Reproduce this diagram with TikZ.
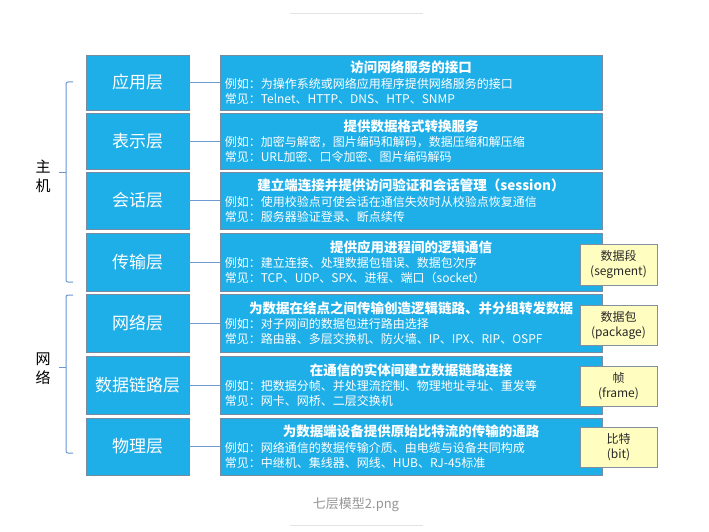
\documentclass[tikz,border=0pt]{standalone}
\usepackage{fontspec}
\setmainfont{Noto Sans CJK SC}
\definecolor{boxblue}{RGB}{31,175,232}
\definecolor{boxline}{RGB}{120,140,160}
\definecolor{pdufill}{RGB}{255,253,192}
\definecolor{pduline}{RGB}{130,145,160}
\definecolor{pdutext}{RGB}{40,40,40}
\definecolor{connblue}{RGB}{110,155,210}
\definecolor{brkblue}{RGB}{105,150,208}
\definecolor{captiongrey}{RGB}{150,150,150}
\definecolor{rulegrey}{RGB}{228,228,228}
\newcommand\osirow[7]{%
  \node[layerbox, minimum height={(#3-#2)*1pt}] (L#1) at (137.5,{(#2+#3)/2}) {#4};
  \node[descbox, minimum height={(#3-#2)*1pt}] (R#1) at (411,{(#2+#3)/2}) {};
  \node[titletxt] (T#1) at ([yshift=15pt]R#1.center) {#5};
  \node[txtline, anchor=west] (A#1) at ([xshift=5pt,yshift=-1pt]R#1.west) {例如：#6};
  \node[txtline, anchor=west] (B#1) at ([xshift=5pt,yshift=-16pt]R#1.west) {常见：#7};
  \draw[conn] (L#1.east) -- (R#1.west);
}
\begin{document}
\begin{tikzpicture}[x=1pt,y=-1pt,
  layerbox/.style={draw=boxline, line width=0.8pt, fill=boxblue, minimum width=103pt, text=white, font=\fontsize{17}{20}\selectfont, inner sep=0pt},
  descbox/.style={draw=boxline, line width=0.8pt, fill=boxblue, minimum width=382pt, inner sep=0pt},
  titletxt/.style={text=white, font=\bfseries\fontsize{13.5}{16}\selectfont, inner sep=0pt},
  txtline/.style={text=white, font=\fontsize{12}{14}\selectfont, inner sep=0pt},
  pdubox/.style={draw=pduline, line width=0.8pt, fill=pdufill, minimum width=77pt, align=center, font=\fontsize{12}{15}\selectfont, text=pdutext, inner sep=0pt},
  conn/.style={draw=connblue, line width=1pt},
  brk/.style={draw=brkblue, line width=1pt, rounded corners=2pt},
  sidelabel/.style={align=center, font=\fontsize{15}{19}\selectfont, text=black, inner sep=0pt},
]
\useasboundingbox (0,0) rectangle (709,532);

\osirow{1}{55}{110}{应用层}{访问网络服务的接口}{为操作系统或网络应用程序提供网络服务的接口}{Telnet、HTTP、DNS、HTP、SNMP}
\osirow{2}{113}{169}{表示层}{提供数据格式转换服务}{加密与解密，图片编码和解码，数据压缩和解压缩}{URL加密、口令加密、图片编码解码}
\osirow{3}{172}{229}{会话层}{建立端连接并提供访问验证和会话管理（session）}{使用校验点可使会话在通信失效时从校验点恢复通信}{服务器验证登录、断点续传}
\osirow{4}{233}{291}{传输层}{提供应用进程间的逻辑通信}{建立连接、处理数据包错误、数据包次序}{TCP、UDP、SPX、进程、端口（socket）}
\osirow{5}{294}{352}{网络层}{为数据在结点之间传输创造逻辑链路、并分组转发数据}{对子网间的数据包进行路由选择}{路由器、多层交换机、防火墙、IP、IPX、RIP、OSPF}
\osirow{6}{356}{414}{数据链路层}{在通信的实体间建立数据链路连接}{把数据分帧、并处理流控制、物理地址寻址、重发等}{网卡、网桥、二层交换机}
\osirow{7}{418}{475}{物理层}{为数据端设备提供原始比特流的传输的通路}{网络通信的数据传输介质、由电缆与设备共同构成}{中继机、集线器、网线、HUB、RJ-45标准}

\node[pdubox, minimum height=41pt] (P4) at (618.5,264.5) {数据段\\(segment)};
\node[pdubox, minimum height=40pt] (P5) at (618.5,325) {数据包\\(package)};
\node[pdubox, minimum height=40pt] (P6) at (618.5,386) {帧\\(frame)};
\node[pdubox, minimum height=40pt] (P7) at (618.5,447) {比特\\(bit)};

% brackets
\coordinate (h1) at (73,82);
\coordinate (h2) at (73,282);
\coordinate (h3) at (73,295);
\coordinate (h4) at (73,453);
\draw[brk] (h1) -- (66,82) -- (66,282) -- (h2);
\draw[brk] (66,172) -- (59,172);
\draw[brk] (h3) -- (66,295) -- (66,453) -- (h4);
\draw[brk] (66,367) -- (59,367);
\node[sidelabel] (host) at (43,176) {主\\机};
\node[sidelabel] (net) at (43,369) {网\\络};

% caption and rules
\coordinate (r1a) at (290,14);
\coordinate (r1b) at (423,14);
\coordinate (r2a) at (290,525);
\coordinate (r2b) at (423,525);
\draw[rulegrey, line width=1pt] (r1a) -- (r1b);
\draw[rulegrey, line width=1pt] (r2a) -- (r2b);
\node[text=captiongrey, font=\fontsize{13}{15}\selectfont, inner sep=0pt] (cap) at (356,505) {七层模型2.png};
\end{tikzpicture}
\end{document}
